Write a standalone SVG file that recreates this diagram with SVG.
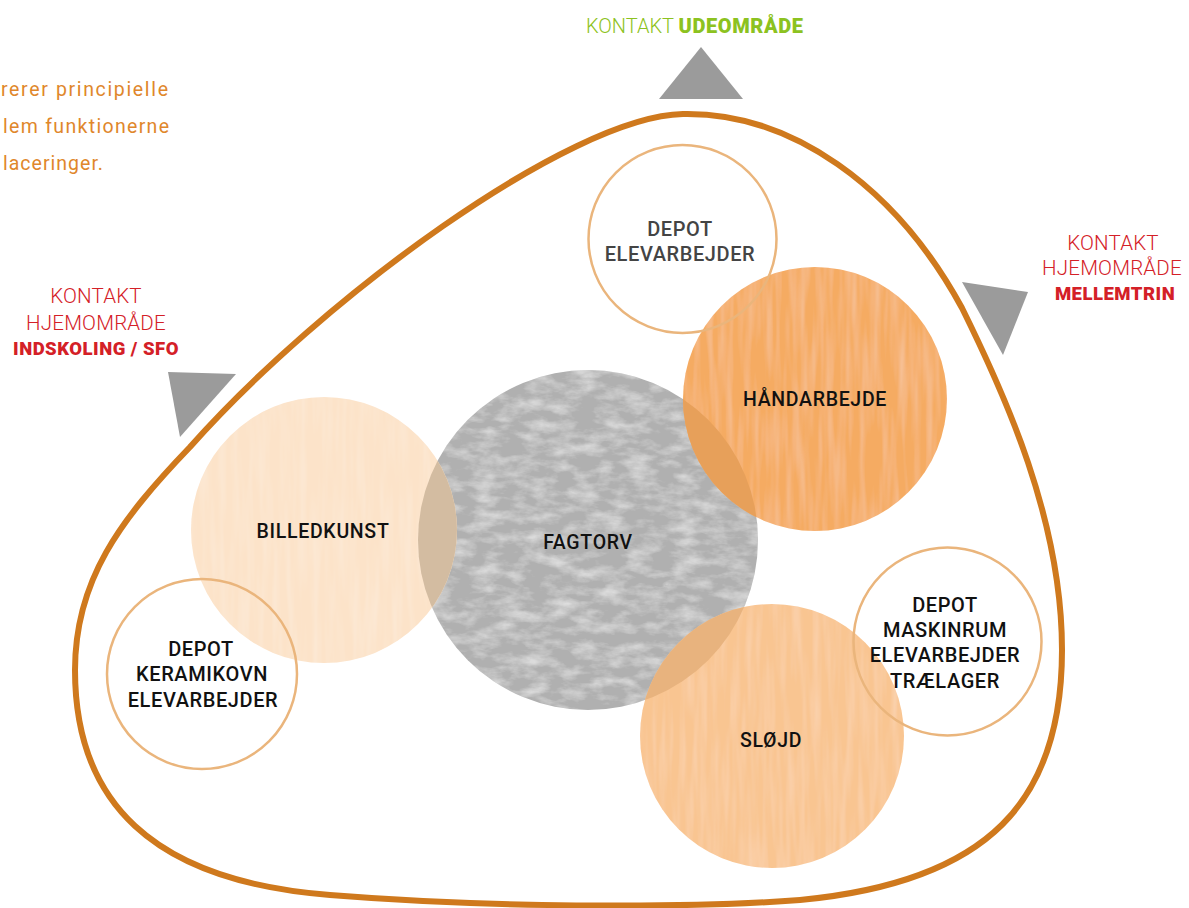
<svg xmlns="http://www.w3.org/2000/svg" width="1189" height="908" viewBox="0 0 1189 908">
<style>
.intro{font-family:Roboto,"Liberation Sans",sans-serif;font-size:19.5px;fill:#e0872b;font-weight:400}
.lbl{font-family:Roboto,"Liberation Sans",sans-serif;font-size:19.5px;fill:#111;font-weight:500;letter-spacing:0.7px;text-anchor:middle}
.dep{font-family:Roboto,"Liberation Sans",sans-serif;font-size:20px;fill:#111;font-weight:500;letter-spacing:0.6px;text-anchor:middle}
.red{font-family:Roboto,"Liberation Sans",sans-serif;font-size:20.5px;fill:#d42027;font-weight:300;text-anchor:middle;letter-spacing:0.2px}
.redb{font-family:Roboto,"Liberation Sans",sans-serif;font-size:18.5px;fill:#d42027;font-weight:900;text-anchor:middle;letter-spacing:0.5px}
.ring{fill:none;stroke:#eab57c;stroke-width:2.5}
.tri{fill:#9b9b9b}
</style>
<defs>
<filter id="grunge" x="0" y="0" width="1" height="1">
<feTurbulence type="fractalNoise" baseFrequency="0.04 0.09" numOctaves="4" seed="3" result="n"/>
<feColorMatrix in="n" type="matrix" values="0 0 0 0 1  0 0 0 0 1  0 0 0 0 1  1.0 0 0 0 -0.40" result="w"/>
<feComposite in="w" in2="SourceGraphic" operator="in" result="wc"/>
<feMerge><feMergeNode in="SourceGraphic"/><feMergeNode in="wc"/></feMerge>
</filter>
<filter id="grain" x="0" y="0" width="1" height="1">
<feTurbulence type="fractalNoise" baseFrequency="0.15 0.012" numOctaves="2" seed="7" result="n"/>
<feColorMatrix in="n" type="matrix" values="0 0 0 0 1  0 0 0 0 1  0 0 0 0 1  0.35 0 0 0 -0.13" result="w"/>
<feComposite in="w" in2="SourceGraphic" operator="in" result="wc"/>
<feMerge><feMergeNode in="SourceGraphic"/><feMergeNode in="wc"/></feMerge>
</filter>
<clipPath id="cFag"><circle cx="588" cy="540" r="170"/></clipPath>
</defs>

<g id="intro-text">
<text class="intro" x="1" y="96" textLength="167" lengthAdjust="spacing">rerer principielle</text>
<text class="intro" x="3" y="133" textLength="166" lengthAdjust="spacing">lem funktionerne</text>
<text class="intro" x="3" y="170" textLength="100" lengthAdjust="spacing">laceringer.</text>
</g>

<g id="outline">
<path d="M 683,114 C 790,112 895,185 962,308 C 1005,395 1062,520 1062,650 C 1062,800 990,882 800,900 C 680,909 480,907 330,895 C 150,881 75,800 75,670 C 75,580 120,520 190,447 C 320,300 570,116 683,114 Z" fill="none" stroke="#cf791d" stroke-width="6"/>
</g>

<g id="contact-ude">
<text x="586" y="33" style="font-family:Roboto,'Liberation Sans',sans-serif;font-size:20px;fill:#8cc220"><tspan font-weight="300">KONTAKT </tspan><tspan font-weight="900" letter-spacing="0.6">UDEOMRÅDE</tspan></text>
<polygon class="tri" points="701,47 743,99 659,99"/>
</g>

<g id="contact-indskoling">
<text class="red" x="96" y="303">KONTAKT</text>
<text class="red" x="96" y="330">HJEMOMRÅDE</text>
<text class="redb" x="96" y="355">INDSKOLING / SFO</text>
<polygon class="tri" points="168,372 236,374 180,437"/>
</g>

<g id="contact-mellemtrin">
<text class="red" x="1113" y="250">KONTAKT</text>
<text class="red" x="1112" y="275">HJEMOMRÅDE</text>
<text class="redb" x="1115" y="300">MELLEMTRIN</text>
<polygon class="tri" points="962,282 1028,292 1003,355"/>
</g>

<g id="fagtorv">
<circle cx="588" cy="540" r="170" fill="#b0b0b0" filter="url(#grunge)"/>
</g>

<g id="billedkunst">
<circle cx="324" cy="530" r="133" fill="#fce3c9" filter="url(#grain)"/>
<circle cx="324" cy="530" r="133" fill="#d3bca1" clip-path="url(#cFag)"/>
<text class="lbl" x="323" y="538">BILLEDKUNST</text>
</g>

<g id="haandarbejde">
<circle cx="815" cy="399" r="132" fill="#f5ab62" filter="url(#grain)"/>
<circle cx="815" cy="399" r="132" fill="#e7a05a" clip-path="url(#cFag)"/>
<text class="lbl" x="815" y="406">HÅNDARBEJDE</text>
</g>

<g id="sloejd">
<circle cx="772" cy="736" r="132" fill="#f9c591" filter="url(#grain)"/>
<circle cx="772" cy="736" r="132" fill="#e8b37e" clip-path="url(#cFag)"/>
<text class="lbl" x="771" y="747">SLØJD</text>
</g>

<g id="fagtorv-label">
<text class="lbl" x="588" y="549">FAGTORV</text>
</g>

<g id="depot-elevarbejder">
<circle class="ring" cx="682.5" cy="239" r="94"/>
<text class="dep" x="680" y="236" style="fill:#444">DEPOT</text>
<text class="dep" x="680" y="261" style="fill:#444">ELEVARBEJDER</text>
</g>

<g id="depot-keramikovn">
<circle class="ring" cx="202" cy="674" r="95"/>
<text class="dep" x="201" y="656">DEPOT</text>
<text class="dep" x="202" y="681">KERAMIKOVN</text>
<text class="dep" x="203" y="707">ELEVARBEJDER</text>
</g>

<g id="depot-maskinrum">
<circle class="ring" cx="947.5" cy="641.5" r="94"/>
<text class="dep" x="945" y="612">DEPOT</text>
<text class="dep" x="945" y="637">MASKINRUM</text>
<text class="dep" x="945" y="662">ELEVARBEJDER</text>
<text class="dep" x="945" y="688">TRÆLAGER</text>
</g>
</svg>
